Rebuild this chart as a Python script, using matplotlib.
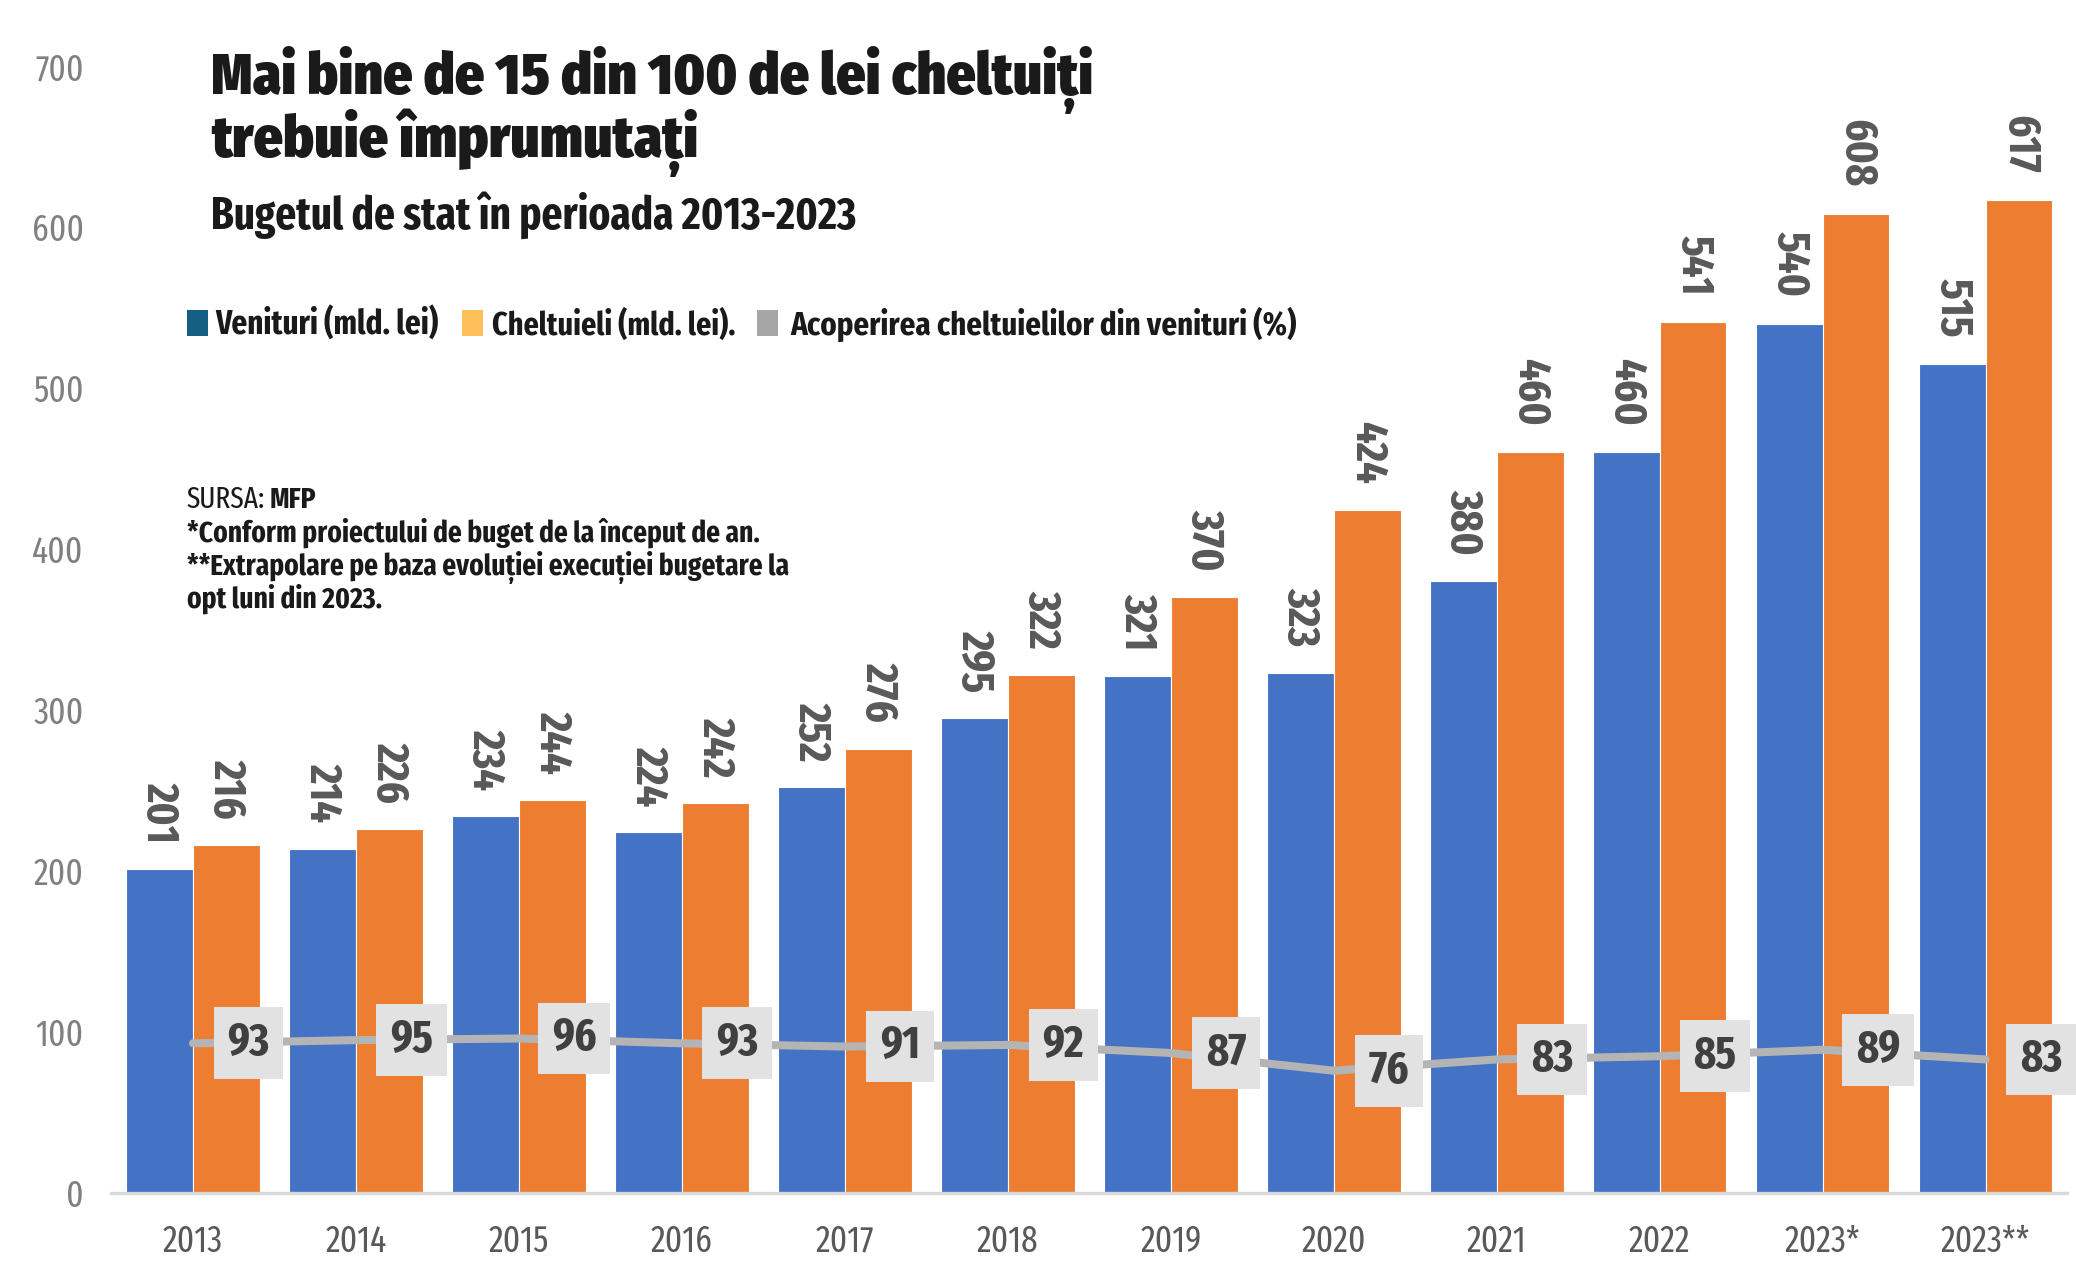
import matplotlib
matplotlib.use("Agg")
import matplotlib.pyplot as plt
from matplotlib.patches import Rectangle
import numpy as np

# data
years = ['2013', '2014', '2015', '2016', '2017', '2018', '2019', '2020',
         '2021', '2022', '2023*', '2023**']
venituri = [201, 214, 234, 224, 252, 295, 321, 323, 380, 460, 540, 515]
cheltuieli = [216, 226, 244, 242, 276, 322, 370, 424, 460, 541, 608, 617]
acoperire = [93, 95, 96, 93, 91, 92, 87, 76, 83, 85, 89, 83]
y_ticks = [0, 100, 200, 300, 400, 500, 600, 700]

COND = ['Fira Sans Condensed', 'DejaVu Sans']
XCOND = ['Fira Sans Extra Condensed', 'DejaVu Sans']

BLUE = '#4472C4'
ORANGE = '#ED7D31'
LINE_GRAY = '#B4B4B4'
LABEL_GRAY = '#595959'
INK = '#1A1A1A'

W, H = 2076, 1283
fig = plt.figure(figsize=(W / 100, H / 100), dpi=100)
ax = fig.add_axes([0.0537, 0.0701, 0.942, 0.8784])
renderer = fig.canvas.get_renderer()


def fit_width(t, target_px):
    # scale the font so the text spans the same width as in the reference
    w = t.get_window_extent(renderer).width
    t.set_fontsize(t.get_fontsize() * target_px / w)
    return t.get_fontsize()


x = np.arange(len(years))
bw = 0.41

ax.bar(x - bw / 2, venituri, bw, color=BLUE, edgecolor='white', linewidth=0.8, zorder=2)
ax.bar(x + bw / 2, cheltuieli, bw, color=ORANGE, edgecolor='white', linewidth=0.8, zorder=2)

# value labels above the bars, rotated
for pos, vals in [(x - bw / 2, venituri), (x + bw / 2, cheltuieli)]:
    for xi, v in zip(pos, vals):
        ax.annotate(str(v), (xi, v), xytext=(0, 19), textcoords='offset points',
                    rotation=270, ha='center', va='bottom', fontsize=33,
                    fontweight='bold', color=LABEL_GRAY, family=XCOND,
                    annotation_clip=False)

# coverage line with boxed labels
ax.plot(x, acoperire, color=LINE_GRAY, linewidth=5.8, solid_capstyle='round', zorder=3)
for xi, v in zip(x, acoperire):
    ax.text(xi + 0.34, v, str(v), ha='center', va='center',
            fontsize=33, fontweight='bold', color='#404040', family=XCOND, zorder=4,
            bbox=dict(boxstyle='square,pad=0.3', facecolor='#E2E2E2', edgecolor='none'),
            clip_on=False)

ax.set_xlim(-0.5, len(years) - 0.5)
ax.set_ylim(0, 700)
ax.set_yticks(y_ticks)
ax.set_xticks(x)
ax.set_xticklabels(years)
for spine in ['top', 'right', 'left']:
    ax.spines[spine].set_visible(False)
ax.spines['bottom'].set_color('#D9D9D9')
ax.spines['bottom'].set_linewidth(2.4)
ax.tick_params(axis='both', length=0)
ax.tick_params(axis='x', pad=22, labelsize=26, labelcolor=LABEL_GRAY)
ax.tick_params(axis='y', pad=20, labelsize=26, labelcolor='#808080')
for lab in ax.get_xticklabels() + ax.get_yticklabels():
    lab.set_family(XCOND)

# titles
t1 = fig.text(211 / W, 1 - 94 / H, 'Mai bine de 15 din 100 de lei cheltuiți',
              fontsize=40, fontweight='black', family=COND, color=INK, va='baseline')
size = fit_width(t1, 880)
fig.text(211 / W, 1 - 157 / H, 'trebuie împrumutați',
         fontsize=size, fontweight='black', family=COND, color=INK, va='baseline')
sub = fig.text(211 / W, 1 - 229 / H, 'Bugetul de stat în perioada 2013-2023',
               fontsize=30, fontweight='bold', family=XCOND, color=INK, va='baseline')
fit_width(sub, 646)

# legend built by hand (its colours differ from the bars)
legend_items = [
    ('Venituri (mld. lei)', '#156082', 187, 215, 223),
    ('Cheltuieli (mld. lei).', '#FFC05A', 462, 492, 244),
    ('Acoperirea cheltuielilor din venituri (%)', '#A6A6A6', 757, 790, 507),
]
for label, col, sx, tx, tw in legend_items:
    fig.patches.append(Rectangle((sx / W, 1 - 336 / H), 21 / W, 26 / H,
                                 transform=fig.transFigure, facecolor=col,
                                 edgecolor='none'))
    lt = fig.text(tx / W, 1 - 335 / H, label, fontsize=24, fontweight='bold',
                  family=XCOND, color=INK, va='baseline')
    fit_width(lt, tw)

# source and notes
notes = ['*Conform proiectului de buget de la început de an.',
         '**Extrapolare pe baza evoluției execuției bugetare la',
         'opt luni din 2023.']
n0 = fig.text(187 / W, 1 - 542 / H, notes[0], fontsize=20, fontweight='bold',
              family=XCOND, color=INK, va='baseline')
nsize = fit_width(n0, 574)
for i, line in enumerate(notes[1:], start=1):
    fig.text(187 / W, 1 - (542 + 33 * i) / H, line, fontsize=nsize,
             fontweight='bold', family=XCOND, color=INK, va='baseline')
src = fig.text(187 / W, 1 - 508 / H, 'SURSA:', fontsize=nsize, family=XCOND,
               color=INK, va='baseline')
sw = src.get_window_extent(renderer)
fig.text((sw.x1 + 4) / W, 1 - 508 / H, 'MFP', fontsize=nsize, fontweight='bold',
         family=XCOND, color=INK, va='baseline')

fig.savefig('out.png', dpi=100, facecolor='white')
